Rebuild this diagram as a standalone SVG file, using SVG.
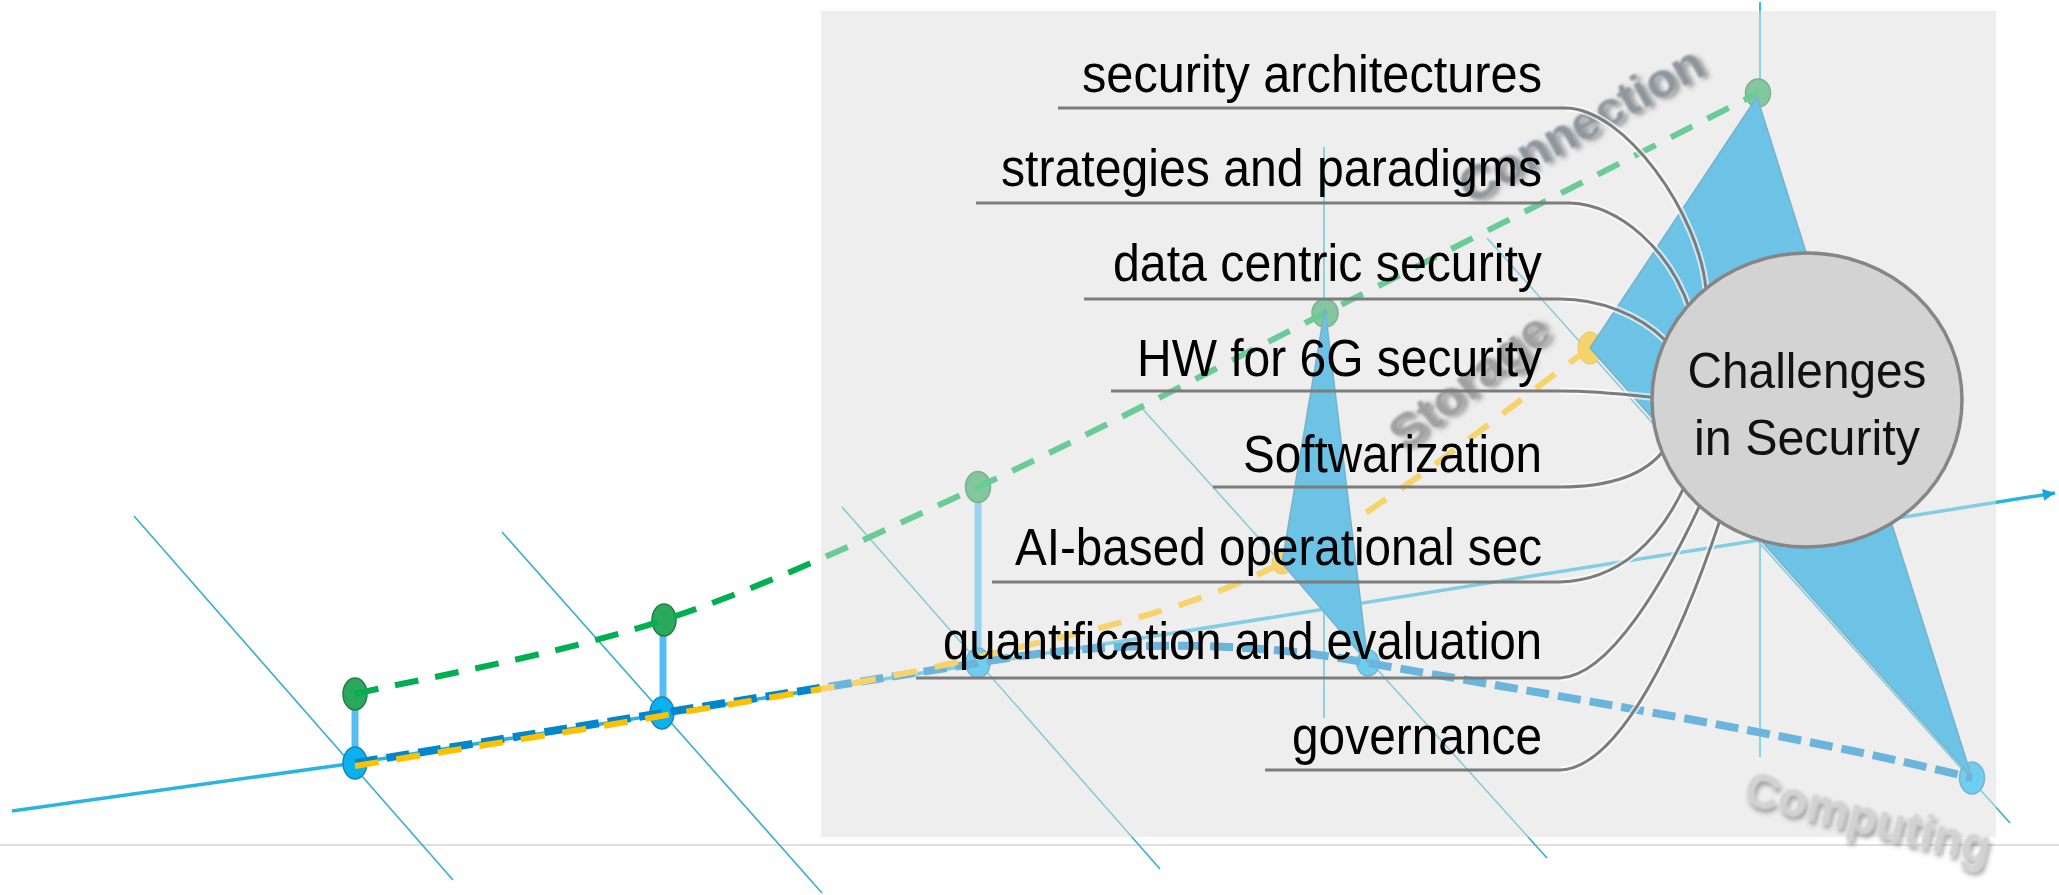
<svg xmlns="http://www.w3.org/2000/svg" width="2059" height="895" viewBox="0 0 2059 895">
<defs>
<style>
.lbl{font-family:"Liberation Sans",Arial,sans-serif;font-size:51px;fill:#000;text-anchor:end}
.ctr{font-family:"Liberation Sans",Arial,sans-serif;font-size:50px;fill:#111;text-anchor:middle}
.ul{fill:none;stroke:#7c7c7c;stroke-width:3}
.halo{fill:none;stroke:#ffffff;stroke-opacity:0.65;stroke-width:7}
.thin{stroke:#3aafc6;stroke-width:1.6;fill:none}
.vert{stroke:#3bb8e0;stroke-width:2;fill:none}
.gn{fill:#2aa85c;stroke:#1f7f45;stroke-width:1.5}
.bn{fill:#08b2f0;stroke:#1a85b5;stroke-width:1.5}
.yn{fill:#ffc000;stroke:#d9a300;stroke-width:1}
.cn{stroke:#55bdf2;stroke-width:7;stroke-linecap:butt}
.tri{fill:#05a0e0;stroke:#1a80b0;stroke-width:1.5;stroke-linejoin:round}
.axis{fill:none;stroke:#2cb4de;stroke-width:3.5}
.dg{fill:none;stroke:#00b050;stroke-width:6;stroke-dasharray:24 17}
.db{fill:none;stroke:#0086cc;stroke-width:8;stroke-dasharray:23 9}
.dy{fill:none;stroke:#ffc000;stroke-width:6;stroke-dasharray:24 18}
.wm{font-family:"Liberation Sans",Arial,sans-serif;font-weight:bold;font-size:48px}
</style>
<marker id="arr" viewBox="0 0 10 10" refX="10" refY="5" markerWidth="14" markerHeight="12" markerUnits="userSpaceOnUse" orient="auto"><path d="M0,0 L10,5 L0,10 z" fill="#18a4dc"/></marker>
<filter id="sh" x="-20%" y="-50%" width="140%" height="200%">
<feGaussianBlur in="SourceAlpha" stdDeviation="2.5" result="bl"/>
<feOffset in="bl" dx="3" dy="4" result="off"/>
<feFlood flood-color="#404040" flood-opacity="0.5"/>
<feComposite in2="off" operator="in" result="shadow"/>
<feGaussianBlur in="SourceGraphic" stdDeviation="0.8" result="soft"/>
<feMerge><feMergeNode in="shadow"/><feMergeNode in="soft"/></feMerge>
</filter>
</defs>
<rect width="2059" height="895" fill="#ffffff"/>
<line x1="0" y1="845" x2="2059" y2="845" stroke="#dedede" stroke-width="2"/>
<rect id="panel" x="821" y="11" width="1175" height="826" fill="#eeeeee"/>

<g id="axes">
<line class="thin" x1="134" y1="516" x2="453" y2="880"/>
<line class="thin" x1="502" y1="532" x2="822" y2="893"/>
<line class="thin" x1="842" y1="507" x2="1160" y2="869"/>
<line class="thin" x1="1140" y1="406" x2="1547" y2="858"/>
<line class="thin" x1="1487" y1="238" x2="2010" y2="823"/>
<line class="vert" x1="1324" y1="147" x2="1324" y2="718"/>
<line class="vert" x1="1760" y1="2" x2="1760" y2="757"/>
<path class="axis" d="M12,811 L355,763 L2055,493" marker-end="url(#arr)"/>
</g>

<g id="gen1">
<line class="cn" x1="355" y1="706" x2="355" y2="750"/>
<ellipse class="gn" cx="355" cy="694" rx="12" ry="16"/>
<ellipse class="bn" cx="355" cy="763" rx="12" ry="16"/>
</g>
<g id="gen2">
<line class="cn" x1="663" y1="632" x2="663" y2="700"/>
<ellipse class="gn" cx="664" cy="620" rx="12" ry="16"/>
<ellipse class="bn" cx="662" cy="713" rx="12" ry="16"/>
</g>
<g id="gen3">
<line class="cn" x1="978" y1="500" x2="978" y2="650" stroke="#12aef0" stroke-width="8"/>
<ellipse class="gn" cx="978" cy="487" rx="12.5" ry="15.5"/>
<ellipse class="bn" cx="978" cy="663" rx="12" ry="15"/>
</g>
<g id="gen4">
<ellipse class="gn" cx="1325" cy="313" rx="13" ry="14"/>
<ellipse class="yn" cx="1282" cy="563" rx="10" ry="11"/>
<ellipse class="bn" cx="1368" cy="663" rx="11" ry="13"/>
</g>
<g id="gen5">
<ellipse class="gn" cx="1758" cy="93" rx="12.5" ry="14"/>
<ellipse class="yn" cx="1590" cy="348" rx="12" ry="16"/>
<ellipse class="bn" cx="1972" cy="778" rx="12.5" ry="16"/>
</g>

<g id="connectors">
<path class="dg" d="M355,694 C406.5,681.7 560.2,654.5 664,620 C767.8,585.5 867.8,538.2 978,487 C1088.2,435.8 1195,378.7 1325,313 C1455,247.3 1685.8,129.7 1758,93"/>
<path class="db" d="M355,763 L662,713 L978,663 C1100,640 1250,640 1368,663 C1550,695 1800,735 1972,778"/>
<path class="dy" d="M355,766 C405.2,757.7 557,734.2 661,716 C765,697.8 874.5,682.5 978,657 C1081.5,631.5 1180,614.5 1282,563 C1384,511.5 1538.7,383.8 1590,348"/>
</g>

<g id="triangles">
<polygon class="tri" points="1325,308 1282,563 1368,663"/>
<polygon class="tri" points="1757,97 1590,348 1972,778"/>
</g>

<rect id="panel-veil" x="821" y="11" width="1175" height="826" fill="#eeeeee" fill-opacity="0.45"/>

<g id="axis-labels">
<text class="wm" fill="#8d969e" filter="url(#sh)" transform="translate(1470,205) rotate(-29)" textLength="272" lengthAdjust="spacingAndGlyphs">Connection</text>
<text class="wm" fill="#a0a0a0" filter="url(#sh)" transform="translate(1405,453) rotate(-38)" textLength="190" lengthAdjust="spacingAndGlyphs">Storage</text>
</g>

<g id="label-connectors">
<path class="halo" d="M1565,108 C1625,108 1700,215 1706,290"/>
<path class="halo" d="M1570,203 C1620,205 1670,250 1690,310"/>
<path class="halo" d="M1560,299 C1600,299 1640,315 1665,340"/>
<path class="halo" d="M1560,391 C1600,391 1630,395 1660,398"/>
<path class="halo" d="M1560,487 C1610,487 1645,475 1664,450"/>
<path class="halo" d="M1560,582 C1620,580 1660,540 1685,485"/>
<path class="halo" d="M1560,678 C1610,676 1665,580 1700,505"/>
<path class="halo" d="M1560,770 C1620,768 1680,640 1720,520"/>
<path class="ul" d="M1058,108 H1565 C1625,108 1700,215 1706,290"/>
<path class="ul" d="M976,203 H1570 C1620,205 1670,250 1690,310"/>
<path class="ul" d="M1084,299 H1560 C1600,299 1640,315 1665,340"/>
<path class="ul" d="M1111,391 H1560 C1600,391 1630,395 1660,398"/>
<path class="ul" d="M1213,487 H1560 C1610,487 1645,475 1664,450"/>
<path class="ul" d="M992,582 H1560 C1620,580 1660,540 1685,485"/>
<path class="ul" d="M916,678 H1560 C1610,676 1665,580 1700,505"/>
<path class="ul" d="M1265,770 H1560 C1620,768 1680,640 1720,520"/>
</g>

<g id="label-security-architectures"><text class="lbl" x="1542" y="91.5" textLength="460" lengthAdjust="spacingAndGlyphs">security architectures</text></g>
<g id="label-strategies"><text class="lbl" x="1542" y="185.5" textLength="541" lengthAdjust="spacingAndGlyphs">strategies and paradigms</text></g>
<g id="label-data-centric"><text class="lbl" x="1542" y="281" textLength="429" lengthAdjust="spacingAndGlyphs">data centric security</text></g>
<g id="label-hw"><text class="lbl" x="1542" y="376" textLength="405" lengthAdjust="spacingAndGlyphs">HW for 6G security</text></g>
<g id="label-softwarization"><text class="lbl" x="1542" y="471.5" textLength="299" lengthAdjust="spacingAndGlyphs">Softwarization</text></g>
<g id="label-ai"><text class="lbl" x="1542" y="565" textLength="527" lengthAdjust="spacingAndGlyphs">AI-based operational sec</text></g>
<g id="label-quantification"><text class="lbl" x="1542" y="659" textLength="599" lengthAdjust="spacingAndGlyphs">quantification and evaluation</text></g>
<g id="label-governance"><text class="lbl" x="1542" y="754" textLength="250" lengthAdjust="spacingAndGlyphs">governance</text></g>

<g id="challenges">
<ellipse cx="1807" cy="400" rx="155" ry="147" fill="#d3d3d3" stroke="#868686" stroke-width="3.5"/>
<text class="ctr" x="1807" y="388" textLength="239" lengthAdjust="spacingAndGlyphs">Challenges</text>
<text class="ctr" x="1807" y="455" textLength="226" lengthAdjust="spacingAndGlyphs">in Security</text>
</g>

<g id="computing-label">
<text class="wm" fill="#d2d2d2" filter="url(#sh)" transform="translate(1742,803) rotate(14)" textLength="252" lengthAdjust="spacingAndGlyphs">Computing</text>
</g>
</svg>
